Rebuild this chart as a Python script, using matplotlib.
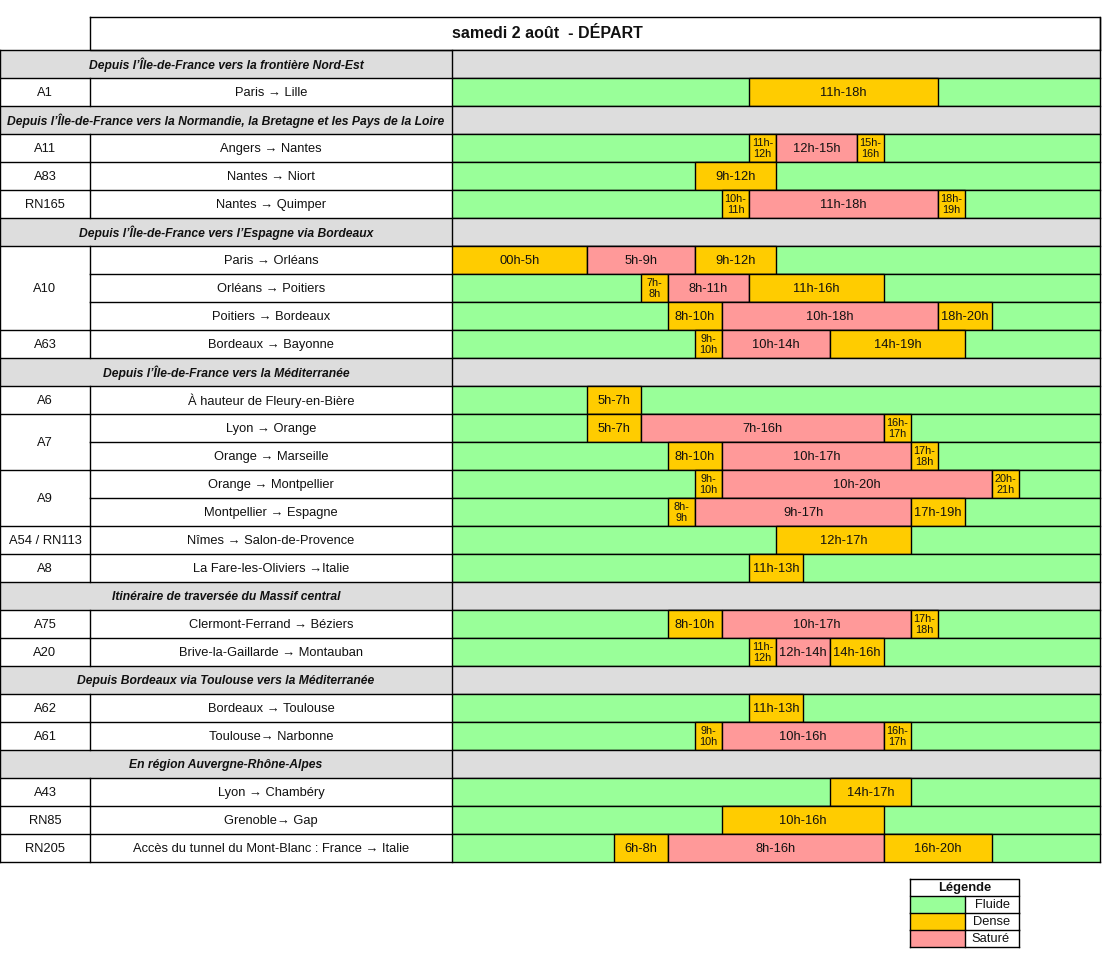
import matplotlib.pyplot as plt

plt.rcParams['font.family'] = ['Liberation Sans', 'DejaVu Sans']

title = "samedi 2 août  - DÉPART"

section_titles = [
    "Depuis l’Île-de-France vers la frontière Nord-Est",
    "Depuis l’Île-de-France vers la Normandie, la Bretagne et les Pays de la Loire",
    "Depuis l’Île-de-France vers l’Espagne via Bordeaux",
    "Depuis l’Île-de-France vers la Méditerranée",
    "Itinéraire de traversée du Massif central",
    "Depuis Bordeaux via Toulouse vers la Méditerranée",
    "En région Auvergne-Rhône-Alpes",
]
section_sizes = [1, 3, 4, 7, 2, 2, 3]

roads = ["A1",
         "A11", "A83", "RN165",
         "A10", "A10", "A10", "A63",
         "A6", "A7", "A7", "A9", "A9", "A54 / RN113", "A8",
         "A75", "A20",
         "A62", "A61",
         "A43", "RN85", "RN205"]

routes = ["Paris → Lille",
          "Angers → Nantes", "Nantes → Niort", "Nantes → Quimper",
          "Paris → Orléans", "Orléans → Poitiers", "Poitiers → Bordeaux",
          "Bordeaux → Bayonne",
          "À hauteur de Fleury-en-Bière", "Lyon → Orange", "Orange → Marseille",
          "Orange → Montpellier", "Montpellier → Espagne",
          "Nîmes → Salon-de-Provence", "La Fare-les-Oliviers →Italie",
          "Clermont-Ferrand → Béziers", "Brive-la-Gaillarde → Montauban",
          "Bordeaux → Toulouse", "Toulouse→ Narbonne",
          "Lyon → Chambéry", "Grenoble→ Gap",
          "Accès du tunnel du Mont-Blanc : France → Italie"]

# (start hour, end hour, level) ; D = dense, S = saturé, rest is fluide
segments = [
    [(11, 18, 'D')],
    [(11, 12, 'D'), (12, 15, 'S'), (15, 16, 'D')],
    [(9, 12, 'D')],
    [(10, 11, 'D'), (11, 18, 'S'), (18, 19, 'D')],
    [(0, 5, 'D'), (5, 9, 'S'), (9, 12, 'D')],
    [(7, 8, 'D'), (8, 11, 'S'), (11, 16, 'D')],
    [(8, 10, 'D'), (10, 18, 'S'), (18, 20, 'D')],
    [(9, 10, 'D'), (10, 14, 'S'), (14, 19, 'D')],
    [(5, 7, 'D')],
    [(5, 7, 'D'), (7, 16, 'S'), (16, 17, 'D')],
    [(8, 10, 'D'), (10, 17, 'S'), (17, 18, 'D')],
    [(9, 10, 'D'), (10, 20, 'S'), (20, 21, 'D')],
    [(8, 9, 'D'), (9, 17, 'S'), (17, 19, 'D')],
    [(12, 17, 'D')],
    [(11, 13, 'D')],
    [(8, 10, 'D'), (10, 17, 'S'), (17, 18, 'D')],
    [(11, 12, 'D'), (12, 14, 'S'), (14, 16, 'D')],
    [(11, 13, 'D')],
    [(9, 10, 'D'), (10, 16, 'S'), (16, 17, 'D')],
    [(14, 17, 'D')],
    [(10, 16, 'D')],
    [(6, 8, 'D'), (8, 16, 'S'), (16, 20, 'D')],
]

colors = {'F': '#99FF99', 'D': '#FFCC00', 'S': '#FF9999'}
legend_labels = [('F', 'Fluide'), ('D', 'Dense'), ('S', 'Saturé')]
gray = '#DDDDDD'
txt = '#111111'

# build row list
rows = []
k = 0
for s, n in zip(section_titles, section_sizes):
    rows.append(('sec', s, None, None))
    for _ in range(n):
        rows.append(('route', roads[k], routes[k], segments[k]))
        k += 1
nrows = len(rows)

W, H = 1106, 976
fig = plt.figure(figsize=(W / 100, H / 100), dpi=100)
ax = fig.add_axes([0, 0, 1, 1])
ax.set_xlim(0, W)
ax.set_ylim(H, 0)
ax.axis('off')

x0, x1, x2, x3 = 0, 90, 452, 1100
top, rh = 50, 28
lw = 1.0
fs = 9.3

# title row
ax.plot([x1, x3, x3, x1, x1], [17, 17, top, top, 17], color='black', lw=lw)
ax.text(547, 34, title, ha='center', va='center', fontsize=11.5,
        fontweight='bold', color=txt)

# left table
for i, (kind, a, b, segs) in enumerate(rows):
    y = top + i * rh
    yc = y + rh / 2 + 1
    if kind == 'sec':
        ax.fill_between([x0, x2], y, y + rh, color=gray, lw=0)
        ax.plot([x0, x3], [y, y], color='black', lw=lw)
        ax.text((x0 + x2) / 2, yc, a, ha='center', va='center', fontsize=8.7,
                fontweight='bold', fontstyle='italic', color=txt)
    else:
        prev = rows[i - 1]
        start_group = prev[0] == 'sec' or prev[1] != a
        ax.plot([x0 if start_group else x1, x3], [y, y], color='black', lw=lw)
        ax.plot([x1, x1], [y, y + rh], color='black', lw=lw)
        ax.text((x1 + x2) / 2, yc, b, ha='center', va='center', fontsize=fs, color=txt)
        if start_group:
            n = 1
            while i + n < nrows and rows[i + n][0] == 'route' and rows[i + n][1] == a:
                n += 1
            ax.text((x0 + x1) / 2, y + n * rh / 2 + 1, a, ha='center', va='center',
                    fontsize=fs, color=txt)
ybot = top + nrows * rh
ax.plot([x0, x3], [ybot, ybot], color='black', lw=lw)
ax.plot([x0, x0], [top, ybot], color='black', lw=lw)
ax.plot([x2, x2], [top, ybot], color='black', lw=lw)
ax.plot([x3, x3], [17, ybot], color='black', lw=lw)

# timeline axes (hours)
tax = fig.add_axes([x2 / W, 1 - ybot / H, (x3 - x2) / W, (ybot - top) / H])
tax.set_xlim(0, 24)
tax.set_ylim(nrows, 0)
tax.axis('off')

for i, (kind, a, b, segs) in enumerate(rows):
    if kind == 'sec':
        tax.barh(i + 0.5, 24, left=0, height=1, color=gray, edgecolor='black', lw=lw)
        continue
    tax.barh(i + 0.5, 24, left=0, height=1, color=colors['F'], edgecolor='black', lw=lw)
    for s, e, lev in segs:
        tax.barh(i + 0.5, e - s, left=s, height=1, color=colors[lev],
                 edgecolor='black', lw=lw)
        sl = '00' if s == 0 else str(s)
        if e - s == 1:
            tax.text((s + e) / 2, i + 0.52, f"{sl}h-\n{e}h", ha='center', va='center',
                     fontsize=7.8, linespacing=1.15, color=txt)
        else:
            tax.text((s + e) / 2, i + 0.55, f"{sl}h-{e}h", ha='center', va='center',
                     fontsize=fs, color=txt)

# legend
lx0, lx1, lx2 = 910, 965, 1019
ly = 879
ax.plot([lx0, lx2, lx2, lx0, lx0], [ly, ly, ly + 17, ly + 17, ly], color='black', lw=lw)
ax.text((lx0 + lx2) / 2, ly + 9, "Légende", ha='center', va='center',
        fontsize=9.3, fontweight='bold', color=txt)
for j, (key, lab) in enumerate(legend_labels):
    y = ly + 17 * (j + 1)
    ax.fill_between([lx0, lx1], y, y + 17, color=colors[key], lw=0)
    ax.plot([lx0, lx2], [y + 17, y + 17], color='black', lw=lw)
    ax.plot([lx0, lx0], [y, y + 17], color='black', lw=lw)
    ax.plot([lx1, lx1], [y, y + 17], color='black', lw=lw)
    ax.plot([lx2, lx2], [y, y + 17], color='black', lw=lw)
    ax.text(lx2 - 9, y + 9, lab, ha='right', va='center', fontsize=9.3, color=txt)

fig.savefig('out.png', dpi=100)
